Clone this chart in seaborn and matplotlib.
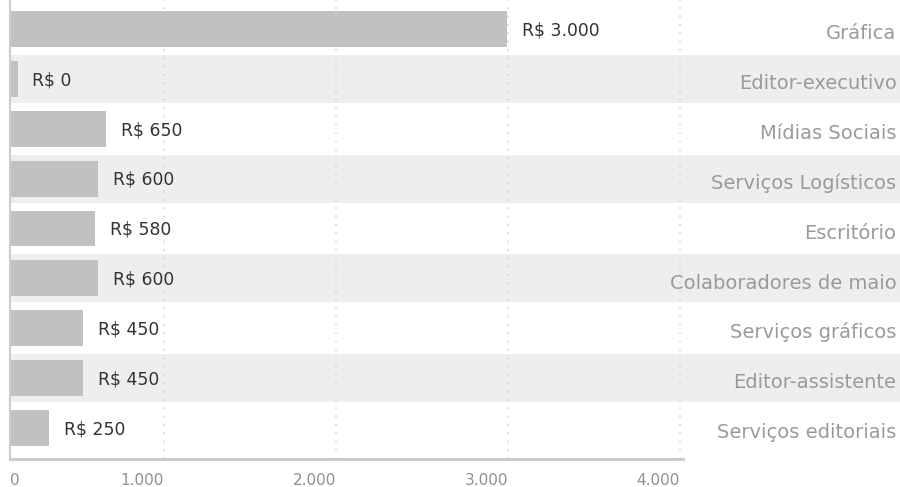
import matplotlib
matplotlib.use("Agg")
import matplotlib.pyplot as plt
import seaborn as sns
import pandas as pd

# ---- data ----
categorias = ["Gráfica", "Editor-executivo", "Mídias Sociais", "Serviços Logísticos",
              "Escritório", "Colaboradores de maio", "Serviços gráficos",
              "Editor-assistente", "Serviços editoriais"]
# bar lengths (axis units)
valores = [2995, 150, 663, 616, 599, 616, 529, 529, 331]
rotulos = ["R$ 3.000", "R$ 0", "R$ 650", "R$ 600", "R$ 580", "R$ 600",
           "R$ 450", "R$ 450", "R$ 250"]
ticks = [1000, 2000, 3000, 4000]
tick_labels = ["1.000", "2.000", "3.000", "4.000"]

df = pd.DataFrame({"categoria": categorias, "valor": valores})

sns.set_theme(style="white")
plt.rcParams["font.family"] = ["DejaVu Sans"]

W, H = 900, 487
fig = plt.figure(figsize=(W / 100, H / 100), dpi=100)
ax = fig.add_axes([10 / W, 28 / H, 890 / W, 459 / H])

px_per_unit = 0.172
x_left = (10 - (-8)) / px_per_unit
x_right = x_left + 890 / px_per_unit
ax.set_xlim(x_left, x_right)

# alternating bands
for i in range(len(categorias)):
    if i % 2 == 1:
        ax.axhspan(i - 0.48, i + 0.48, color="#efeeec", zorder=0, lw=0)

# dotted gridlines
for t in ticks:
    ax.axvline(t, color="#d4d4d4", lw=1.2, ls=(0, (1, 4)), zorder=1)

sns.barplot(data=df, x="valor", y="categoria", orient="h", color="#c1c1c3",
            width=0.72, saturation=1, linewidth=0, ax=ax, zorder=2)
ax.set_ylim(8.62, -0.58)

for i, (v, r) in enumerate(zip(valores, rotulos)):
    ax.annotate(r, (v, i), xytext=(10.5, -4.6), textcoords="offset points",
                va="baseline", ha="left", fontsize=12.4, color="#333333", zorder=3)
    ax.annotate(categorias[i], (1, i), xycoords=ax.get_yaxis_transform(),
                xytext=(-2.5, -7.3), textcoords="offset points",
                ha="right", va="baseline", fontsize=14, color="#9a9a9a", zorder=3)

ax.set_yticks([])
ax.set_ylabel("")
ax.set_xlabel("")
ax.set_xticks([x_left] + ticks)
ax.set_xticklabels(["0"] + tick_labels)
ax.tick_params(axis="x", length=0, pad=10, labelsize=11, labelcolor="#8f8f8f")
for lab in ax.get_xticklabels():
    lab.set_ha("right")
ax.get_xticklabels()[0].set_ha("left")

for s in ["top", "right"]:
    ax.spines[s].set_visible(False)
ax.spines["left"].set_color("#cccccc")
ax.spines["left"].set_linewidth(1.5)
ax.spines["bottom"].set_color("#c8c8c8")
ax.spines["bottom"].set_linewidth(2)
ax.spines["bottom"].set_bounds(x_left, 4020)

fig.savefig("out.png", dpi=100)
